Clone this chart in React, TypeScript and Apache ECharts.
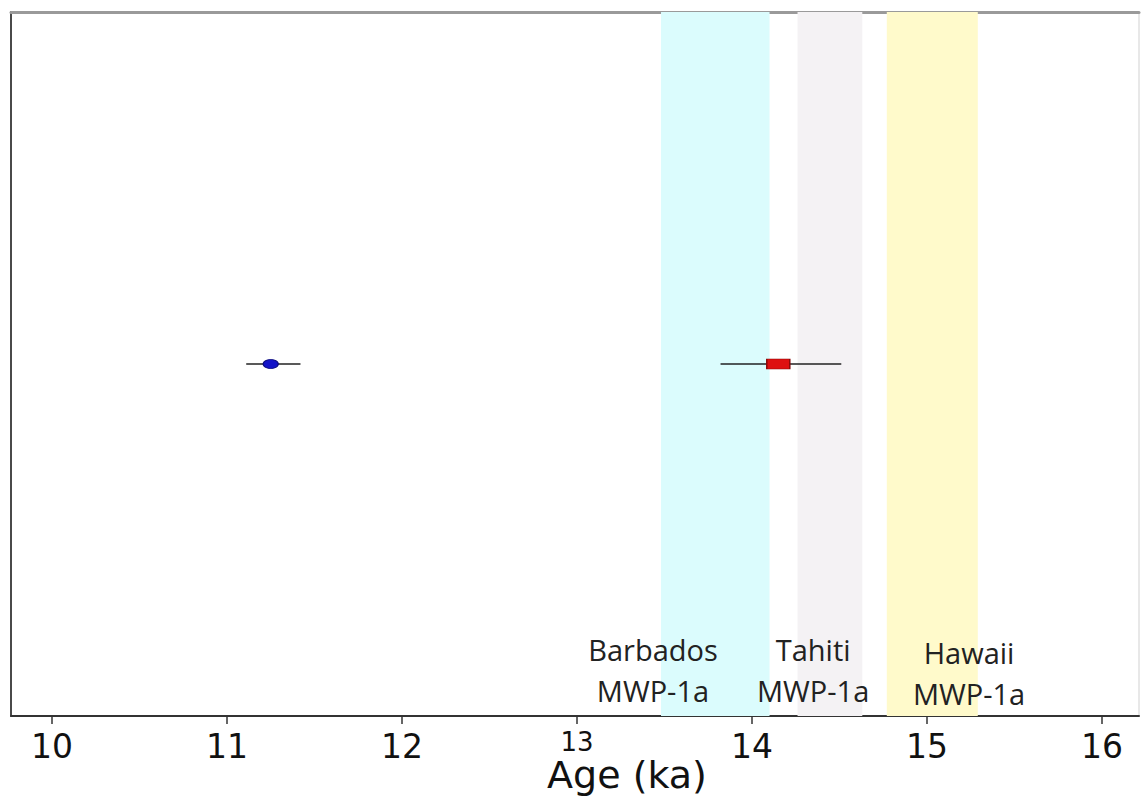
import React, { useEffect, useRef } from "react";
import * as echarts from "echarts";

// Age axis (ka)
const X_MIN = 9.766;
const X_MAX = 16.211;
const tickValues = [10, 11, 12, 13, 14, 15, 16];

// Meltwater pulse 1a timing windows
const bandNames = ["Barbados", "Tahiti", "Hawaii"];
const bandFrom = [13.48, 14.26, 14.77];
const bandTo = [14.1, 14.63, 15.29];
const bandColors = ["#dbfcfd", "#f4f2f4", "#fffacb"];

// Band captions, anchored in data units
const captionAges = [13.434, 14.349, 15.24];
const captionLevels = [0.066, 0.066, 0.061];
const captionLines = ["MWP-1a", "MWP-1a", "MWP-1a"];

// Dated samples with age uncertainty
const sampleAges = [11.25, 14.15];
const sampleLow = [11.11, 13.82];
const sampleHigh = [11.42, 14.51];
const sampleLevel = 0.5;

export default function App() {
  const ref = useRef<HTMLDivElement>(null);

  useEffect(() => {
    if (!ref.current) return;
    const chart = echarts.init(ref.current, undefined, { renderer: "svg" });

    const tickFont = "'DejaVu Sans', sans-serif";
    const textFont = "'Open Sans', 'Noto Sans', sans-serif";

    chart.setOption({
      animation: false,
      backgroundColor: "#ffffff",
      grid: {
        left: 11,
        right: 3,
        top: 12,
        bottom: 86,
        containLabel: false,
        outerBoundsMode: "none",
      },
      xAxis: [
        {
          type: "value",
          min: X_MIN,
          max: X_MAX,
          position: "bottom",
          splitLine: { show: false },
          axisLine: { show: true, onZero: false, lineStyle: { color: "#333333", width: 2 } },
          axisTick: {
            show: true,
            customValues: tickValues,
            length: 8,
            inside: false,
            lineStyle: { color: "#333333", width: 1.5 },
          },
          axisLabel: {
            show: true,
            customValues: tickValues,
            margin: 14,
            fontFamily: tickFont,
            fontSize: 33,
            color: "#111111",
            formatter: (v: number) => (v === 13 ? "{r|13}" : String(v)),
            rich: {
              r: { fontFamily: tickFont, fontSize: 26, lineHeight: 23, color: "#111111" },
            },
          },
          name: "Age (ka)",
          nameLocation: "middle",
          nameMoveOverlap: false,
          nameGap: 40,
          nameTextStyle: {
            fontFamily: tickFont,
            fontSize: 38,
            lineHeight: 38,
            color: "#111111",
            padding: [0, 0, 0, 104],
          },
        },
        {
          type: "value",
          min: X_MIN,
          max: X_MAX,
          position: "top",
          splitLine: { show: false },
          axisLine: { show: true, onZero: false, lineStyle: { color: "#9a9a9a", width: 3 } },
          axisTick: { show: false },
          axisLabel: { show: false },
        },
      ],
      yAxis: [
        {
          type: "value",
          min: 0,
          max: 1,
          position: "left",
          splitLine: { show: false },
          axisLine: { show: true, onZero: false, lineStyle: { color: "#4a4a4a", width: 2 } },
          axisTick: { show: false },
          axisLabel: { show: false },
        },
        {
          type: "value",
          min: 0,
          max: 1,
          position: "right",
          splitLine: { show: false },
          axisLine: { show: true, onZero: false, lineStyle: { color: "#e8e8e8", width: 2 } },
          axisTick: { show: false },
          axisLabel: { show: false },
        },
      ],
      series: [
        // shaded windows
        {
          type: "line",
          xAxisIndex: 0,
          yAxisIndex: 0,
          data: [],
          silent: true,
          z: 1,
          markArea: {
            silent: true,
            data: bandNames.map((n, i) => [
              { name: n, xAxis: bandFrom[i], itemStyle: { color: bandColors[i] } },
              { xAxis: bandTo[i] },
            ]),
            label: { show: false },
          },
        },
        // error bars
        {
          type: "custom",
          xAxisIndex: 0,
          yAxisIndex: 0,
          z: 3,
          data: sampleAges.map((a, i) => [sampleLow[i], sampleHigh[i], sampleLevel]),
          renderItem: (_p: any, api: any) => {
            const p0 = api.coord([api.value(0), api.value(2)]);
            const p1 = api.coord([api.value(1), api.value(2)]);
            return {
              type: "line",
              shape: { x1: p0[0], y1: p0[1], x2: p1[0], y2: p1[1] },
              style: { stroke: "#222222", lineWidth: 1.6 },
            };
          },
        },
        // blue sample
        {
          type: "scatter",
          xAxisIndex: 0,
          yAxisIndex: 0,
          z: 4,
          symbol: "circle",
          symbolSize: [15, 9],
          itemStyle: { color: "#1414c8", borderColor: "#0c0c80", borderWidth: 1, opacity: 1 },
          data: [[sampleAges[0], sampleLevel]],
        },
        // red sample
        {
          type: "scatter",
          xAxisIndex: 0,
          yAxisIndex: 0,
          z: 4,
          symbol: "rect",
          symbolSize: [23, 10],
          itemStyle: { color: "#de1010", borderColor: "#8a0a0a", borderWidth: 1, opacity: 1 },
          data: [[sampleAges[1], sampleLevel]],
        },
        // band captions
        {
          type: "scatter",
          xAxisIndex: 0,
          yAxisIndex: 0,
          z: 5,
          symbolSize: 1,
          itemStyle: { color: "rgba(0,0,0,0)", opacity: 1 },
          silent: true,
          label: {
            show: true,
            position: "inside",
            fontFamily: textFont,
            fontSize: 29,
            lineHeight: 41,
            color: "#222222",
            align: "center",
            verticalAlign: "middle",
            formatter: (p: any) => `${p.data[2]}\n${p.data[3]}`,
          },
          data: bandNames.map((n, i) => [captionAges[i], captionLevels[i], n, captionLines[i]]),
        },
      ],
    });

    return () => chart.dispose();
  }, []);

  return (
    <div
      ref={ref}
      style={{ position: "absolute", left: 0, top: 0, width: 1142, height: 802 }}
    />
  );
}
